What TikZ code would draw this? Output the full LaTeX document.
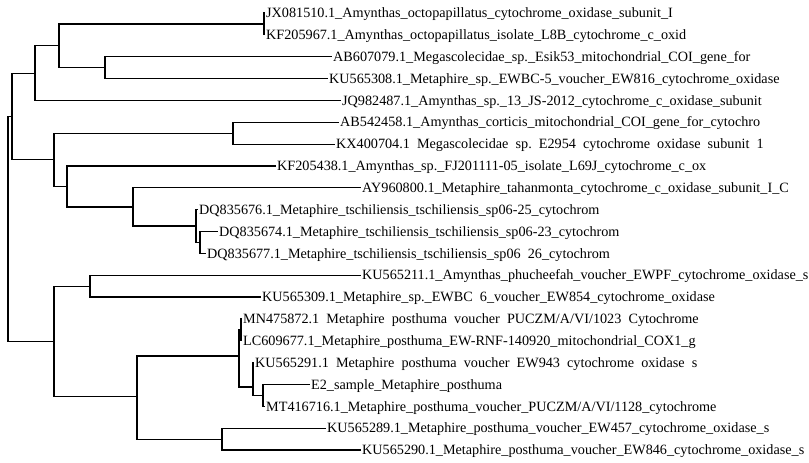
\documentclass[tikz,border=0pt]{standalone}
\usepackage{fontspec}
\setmainfont{Liberation Serif}
\newcommand\wgap{\hspace{0.5em}}
\begin{document}
\begin{tikzpicture}[x=1pt,y=-1pt,
  br/.style={line width=1.2pt, black, line join=miter},
  leaf/.style={anchor=west, inner xsep=1pt, inner ysep=0pt, text height=9.4pt, text depth=0pt,
    font=\fontsize{14.2}{16}\selectfont}]
\useasboundingbox (0,0) rectangle (809,463);
\fill[white] (0,0) rectangle (809,463);
% internal nodes
\coordinate (R) at (8,228.9);
\coordinate (D) at (12,116.4);
\coordinate (C) at (35,73.1);
\coordinate (A) at (59,45.8);
\coordinate (JXp) at (264,23.9);
\coordinate (B) at (105,67.6);
\coordinate (E) at (54,159.8);
\coordinate (F) at (233,133.2);
\coordinate (G) at (67,186.4);
\coordinate (H) at (133,206.9);
\coordinate (I) at (196,226);
\coordinate (J) at (200,242.4);
\coordinate (L) at (54,341.3);
\coordinate (K) at (90,286.1);
\coordinate (M) at (137,396.5);
\coordinate (N) at (239,356);
\coordinate (N1) at (241,329.8);
\coordinate (P) at (253,387);
\coordinate (Q) at (263,395.4);
\coordinate (O) at (222,439.1);
% leaves
\node[leaf] (l1) at (265,13.0) {JX081510.1\_Amynthas\_octopapillatus\_cytochrome\_oxidase\_subunit\_I};
\node[leaf] (l2) at (265,34.85) {KF205967.1\_Amynthas\_octopapillatus\_isolate\_L8B\_cytochrome\_c\_oxid};
\node[leaf] (l3) at (332,56.7) {AB607079.1\_Megascolecidae\_sp.\_Esik53\_mitochondrial\_COI\_gene\_for};
\node[leaf] (l4) at (328,78.55) {KU565308.1\_Metaphire\_sp.\_EWBC-5\_voucher\_EW816\_cytochrome\_oxidase};
\node[leaf] (l5) at (341,100.4) {JQ982487.1\_Amynthas\_sp.\_13\_JS-2012\_cytochrome\_c\_oxidase\_subunit};
\node[leaf] (l6) at (339,122.25) {AB542458.1\_Amynthas\_corticis\_mitochondrial\_COI\_gene\_for\_cytochro};
\node[leaf] (l7) at (335,144.1) {KX400704.1\wgap Megascolecidae\wgap sp.\wgap E2954\wgap cytochrome\wgap oxidase\wgap subunit\wgap 1};
\node[leaf] (l8) at (276,165.95) {KF205438.1\_Amynthas\_sp.\_FJ201111-05\_isolate\_L69J\_cytochrome\_c\_ox};
\node[leaf] (l9) at (361,187.8) {AY960800.1\_Metaphire\_tahanmonta\_cytochrome\_c\_oxidase\_subunit\_I\_C};
\node[leaf] (l10) at (198,209.65) {DQ835676.1\_Metaphire\_tschiliensis\_tschiliensis\_sp06-25\_cytochrom};
\node[leaf] (l11) at (218,231.5) {DQ835674.1\_Metaphire\_tschiliensis\_tschiliensis\_sp06-23\_cytochrom};
\node[leaf] (l12) at (206,253.35) {DQ835677.1\_Metaphire\_tschiliensis\_tschiliensis\_sp06\wgap 26\_cytochrom};
\node[leaf] (l13) at (361,275.2) {KU565211.1\_Amynthas\_phucheefah\_voucher\_EWPF\_cytochrome\_oxidase\_s};
\node[leaf] (l14) at (261,297.05) {KU565309.1\_Metaphire\_sp.\_EWBC\wgap 6\_voucher\_EW854\_cytochrome\_oxidase};
\node[leaf] (l15) at (242,318.9) {MN475872.1\wgap Metaphire\wgap posthuma\wgap voucher\wgap PUCZM/A/VI/1023\wgap Cytochrome};
\node[leaf] (l16) at (242,340.75) {LC609677.1\_Metaphire\_posthuma\_EW-RNF-140920\_mitochondrial\_COX1\_g};
\node[leaf] (l17) at (254,362.6) {KU565291.1\wgap Metaphire\wgap posthuma\wgap voucher\wgap EW943\wgap cytochrome\wgap oxidase\wgap s};
\node[leaf] (l18) at (310,384.45) {E2\_sample\_Metaphire\_posthuma};
\node[leaf] (l19) at (265,406.3) {MT416716.1\_Metaphire\_posthuma\_voucher\_PUCZM/A/VI/1128\_cytochrome};
\node[leaf] (l20) at (326,428.15) {KU565289.1\_Metaphire\_posthuma\_voucher\_EW457\_cytochrome\_oxidase\_s};
\node[leaf] (l21) at (361,450.0) {KU565290.1\_Metaphire\_posthuma\_voucher\_EW846\_cytochrome\_oxidase\_s};
% internal edges
\foreach \p/\c in {R/D,R/L,D/C,D/E,C/A,A/JXp,A/B,E/F,E/G,G/H,H/I,I/J,L/K,L/M,M/N,M/O,N/N1,N/P,P/Q}
  \draw[br] (\p) |- (\c);
% leaf edges
\foreach \p/\c in {C/l5,JXp/l1,JXp/l2,B/l3,B/l4,F/l6,F/l7,G/l8,H/l9,I/l10,J/l11,J/l12,K/l13,K/l14,N1/l15,N1/l16,P/l17,Q/l18,Q/l19,O/l20,O/l21}
  \draw[br] (\p) |- (\c.west);
\end{tikzpicture}
\end{document}
